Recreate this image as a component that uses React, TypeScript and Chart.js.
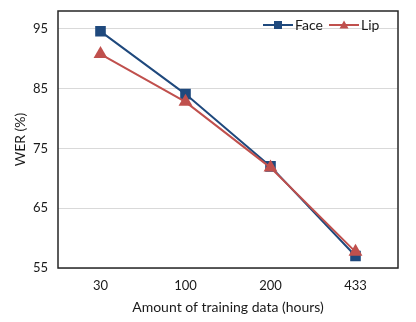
import React, { useEffect, useRef } from "react";
import { Chart, registerables } from "chart.js";

Chart.register(...registerables);

const categories = ["30", "100", "200", "433"];
const faceValues = [94.6, 84.1, 72.0, 57.0];
const lipValues = [90.8, 82.8, 71.8, 57.7];
const seriesNames = ["Face", "Lip"];
const yTicks = [55, 65, 75, 85, 95];
const xTitle = "Amount of training data (hours)";
const yTitle = "WER (%)";

const FACE = "#1F497D";
const LIP = "#C0504D";
const FONT = "Lato, 'Open Sans', sans-serif";

const framePlugin = {
  id: "frame",
  afterDatasetsDraw(chart: any) {
    const { ctx, chartArea } = chart;
    ctx.save();
    ctx.strokeStyle = "#262626";
    ctx.lineWidth = 1.5;
    ctx.strokeRect(chartArea.left, chartArea.top, chartArea.right - chartArea.left, chartArea.bottom - chartArea.top);
    ctx.restore();
  },
};

const legendPlugin = {
  id: "customLegend",
  afterDraw(chart: any) {
    const { ctx, chartArea } = chart;
    const y = chartArea.top + 14;
    const items = [
      { name: seriesNames[0], color: FACE, shape: "square", x: chartArea.right - 135 },
      { name: seriesNames[1], color: LIP, shape: "triangle", x: chartArea.right - 69 },
    ];
    ctx.save();
    ctx.font = `14px ${FONT}`;
    ctx.textBaseline = "middle";
    items.forEach((it) => {
      ctx.strokeStyle = it.color;
      ctx.lineWidth = 2;
      ctx.beginPath();
      ctx.moveTo(it.x, y);
      ctx.lineTo(it.x + 30, y);
      ctx.stroke();
      ctx.fillStyle = it.color;
      const cx = it.x + 15;
      if (it.shape === "square") {
        ctx.fillRect(cx - 4, y - 4, 8, 8);
      } else {
        ctx.beginPath();
        ctx.moveTo(cx, y - 4.5);
        ctx.lineTo(cx + 4.5, y + 3.5);
        ctx.lineTo(cx - 4.5, y + 3.5);
        ctx.closePath();
        ctx.fill();
      }
      ctx.fillStyle = "#1a1a1a";
      ctx.fillText(it.name, it.x + 32, y);
    });
    ctx.restore();
  },
};

export default function App() {
  const ref = useRef<HTMLCanvasElement>(null);
  useEffect(() => {
    document.body.style.margin = "0";
    const chart = new Chart(ref.current!, {
      type: "line",
      data: {
        labels: categories,
        datasets: [
          {
            label: seriesNames[0],
            data: faceValues,
            borderColor: FACE,
            backgroundColor: FACE,
            borderWidth: 2,
            pointStyle: "rect",
            pointRadius: 7.5,
            pointBorderWidth: 0,
            tension: 0,
            order: 1,
          },
          {
            label: seriesNames[1],
            data: lipValues,
            borderColor: LIP,
            backgroundColor: LIP,
            borderWidth: 2,
            pointStyle: "triangle",
            pointRadius: 8,
            pointBorderWidth: 0,
            tension: 0,
            order: 0,
          },
        ],
      },
      options: {
        responsive: false,
        animation: false,
        layout: { padding: { left: 0, right: 18, top: 11, bottom: 0 } },
        plugins: { legend: { display: false }, tooltip: { enabled: false } },
        scales: {
          x: {
            offset: true,
            grid: { display: false, drawTicks: false },
            border: { display: false },
            ticks: { padding: 10, color: "#1a1a1a", font: { family: FONT, size: 13 } },
            title: {
              display: true,
              text: xTitle,
              color: "#1a1a1a",
              font: { family: FONT, size: 14 },
              padding: { top: 4, bottom: 6 },
            },
            afterFit(scale: any) {
              scale.height = 54;
              scale.paddingLeft = 0;
              scale.paddingRight = 0;
            },
          },
          y: {
            min: 55,
            max: 98,
            afterBuildTicks(scale: any) {
              scale.ticks = yTicks.map((v) => ({ value: v }));
            },
            grid: { color: "#D9D9D9", lineWidth: 1, drawTicks: false },
            border: { display: false },
            ticks: { padding: 10, color: "#1a1a1a", font: { family: FONT, size: 13 } },
            title: {
              display: true,
              text: yTitle,
              color: "#1a1a1a",
              font: { family: FONT, size: 14 },
              padding: { top: 12, bottom: 4 },
            },
            afterFit(scale: any) {
              scale.width = 58;
              scale.paddingTop = 0;
              scale.paddingBottom = 0;
            },
          },
        },
      },
      plugins: [framePlugin, legendPlugin],
    });
    return () => chart.destroy();
  }, []);
  return (
    <div style={{ width: 416, height: 322, background: "#fff" }}>
      <canvas ref={ref} width={416} height={322} />
    </div>
  );
}
